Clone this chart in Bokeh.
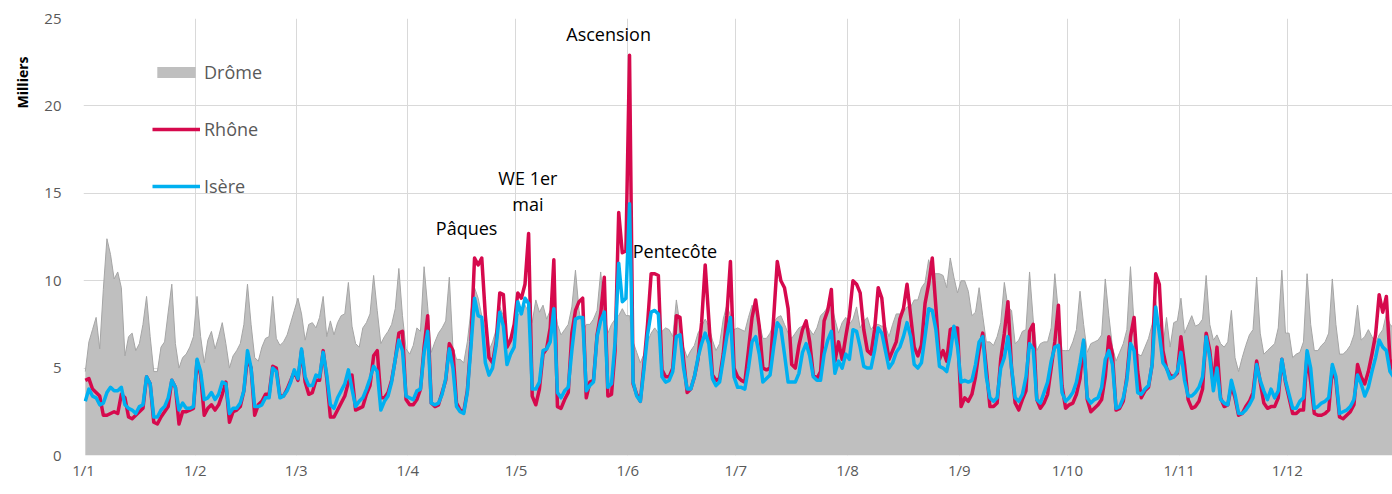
from bokeh.plotting import figure
from bokeh.models import Range1d, FixedTicker, Legend, LegendItem, Label, Title, ColumnDataSource
from bokeh.embed import file_html
from bokeh.resources import INLINE
import numpy as np

# ---------------- data (milliers / jour) ----------------
month_labels = ["1/1", "1/2", "1/3", "1/4", "1/5", "1/6", "1/7", "1/8", "1/9", "1/10", "1/11", "1/12"]
month_start = [0, 31, 59, 90, 120, 151, 181, 212, 243, 273, 304, 334]

drome_jan = [4.8, 6.5, 7.2, 7.9, 6.1, 9.5, 12.4, 11.5, 10.1, 10.5, 9.6, 5.7, 6.8, 7.0, 6.0, 6.4, 7.5, 9.1, 6.8, 4.8, 4.8, 6.2, 6.5, 8.2, 9.8, 6.4, 5.0, 5.6, 5.8, 6.2, 6.8]
rhone_jan = [4.3, 4.4, 3.8, 3.6, 3.4, 2.3, 2.3, 2.4, 2.5, 2.4, 3.5, 3.3, 2.2, 2.1, 2.3, 2.5, 2.7, 4.5, 4.1, 1.9, 1.8, 2.2, 2.5, 2.8, 4.3, 3.9, 1.8, 2.5, 2.5, 2.6, 2.7]
isere_jan = [3.1, 3.8, 3.4, 3.3, 2.9, 3.0, 3.6, 3.9, 3.7, 3.7, 3.9, 2.9, 2.7, 2.6, 2.4, 2.8, 2.9, 4.5, 4.1, 2.2, 2.2, 2.6, 2.8, 3.3, 4.3, 3.9, 2.6, 3.0, 2.7, 2.7, 2.8]

drome_feb = [9.1, 6.8, 5.3, 6.6, 7.1, 6.1, 6.8, 7.6, 6.4, 5.0, 5.7, 6.0, 6.4, 7.5, 9.8, 7.5, 5.6, 5.4, 6.2, 6.7, 6.8, 9.1, 6.7, 6.3, 6.5, 6.9, 7.6, 8.3]
rhone_feb = [5.4, 4.6, 2.3, 2.7, 2.9, 2.6, 2.9, 3.5, 4.2, 1.9, 2.5, 2.6, 2.8, 3.7, 5.6, 5.0, 2.3, 2.9, 3.1, 3.5, 3.5, 5.1, 5.0, 3.4, 3.4, 3.8, 4.3, 4.8]
isere_feb = [5.5, 4.8, 3.2, 3.3, 3.6, 3.2, 3.5, 4.2, 4.1, 2.4, 2.7, 2.7, 3.0, 3.7, 6.0, 5.0, 2.8, 2.8, 2.9, 3.3, 3.3, 5.0, 4.8, 3.3, 3.4, 3.7, 4.2, 4.9]

drome_mar = [9.0, 8.1, 6.6, 7.5, 7.6, 7.3, 7.9, 9.1, 6.8, 7.7, 6.9, 7.6, 8.0, 8.1, 9.9, 7.4, 6.4, 6.2, 7.3, 7.6, 8.1, 10.3, 8.3, 6.4, 6.8, 7.1, 7.5, 8.4, 10.7, 8.0, 6.1]
rhone_mar = [4.3, 6.0, 4.2, 3.5, 3.6, 4.3, 4.3, 6.0, 4.4, 2.2, 2.2, 2.6, 3.0, 3.4, 4.2, 4.6, 2.6, 2.7, 2.8, 3.5, 4.0, 5.7, 6.0, 3.3, 3.3, 3.6, 4.3, 5.5, 7.0, 7.1, 3.2]
isere_mar = [4.4, 6.1, 4.5, 4.0, 4.0, 4.6, 4.5, 5.9, 4.6, 2.9, 2.7, 3.3, 3.7, 4.1, 4.9, 3.8, 2.8, 3.1, 3.3, 3.8, 4.4, 5.1, 4.8, 2.6, 3.1, 3.4, 4.2, 5.5, 6.6, 6.0, 3.4]

drome_apr = [5.8, 6.3, 7.3, 7.1, 10.8, 8.5, 5.9, 6.5, 7.0, 7.3, 7.7, 10.2, 6.2, 5.5, 5.5, 5.3, 6.5, 8.3, 9.6, 9.0, 8.0, 7.2, 6.0, 6.5, 7.2, 8.5, 8.0, 6.5, 6.8, 7.5]
rhone_apr = [2.9, 2.9, 3.2, 3.8, 6.2, 8.0, 3.0, 2.8, 2.9, 3.6, 4.3, 6.4, 6.0, 3.0, 2.6, 2.5, 3.7, 6.5, 11.3, 10.9, 11.3, 8.0, 5.6, 5.3, 6.5, 9.3, 9.2, 6.2, 6.6, 7.5]
isere_apr = [3.3, 3.2, 3.7, 3.8, 5.9, 7.1, 3.0, 2.9, 3.0, 3.5, 4.4, 6.1, 5.0, 2.8, 2.5, 2.4, 3.6, 6.2, 9.0, 8.0, 7.9, 5.3, 4.6, 5.0, 6.3, 8.2, 7.4, 5.2, 5.8, 6.2]

drome_may = [8.0, 8.3, 8.6, 8.2, 7.6, 8.9, 8.2, 8.6, 7.8, 8.3, 9.0, 7.5, 6.9, 7.2, 7.5, 8.5, 10.6, 8.3, 7.0, 7.5, 7.5, 7.8, 8.3, 10.5, 8.3, 7.0, 7.5, 7.8, 8.0, 8.4, 8.0]
rhone_may = [9.3, 9.0, 9.8, 12.7, 3.4, 2.9, 3.8, 5.8, 6.1, 7.3, 11.2, 2.8, 2.7, 3.2, 3.6, 7.0, 8.3, 8.8, 9.0, 3.3, 4.2, 4.3, 6.9, 8.1, 10.2, 3.4, 3.5, 6.0, 13.9, 11.6, 11.7]
isere_may = [8.8, 8.1, 9.0, 8.7, 3.8, 3.8, 4.2, 6.0, 6.1, 6.5, 8.4, 3.6, 3.3, 3.7, 3.9, 6.0, 7.8, 7.9, 7.9, 3.7, 4.0, 4.2, 6.8, 7.7, 8.2, 3.9, 4.1, 6.5, 11.0, 8.8, 9.0]

drome_jun = [8.0, 6.5, 5.9, 5.3, 5.8, 6.5, 7.0, 7.3, 7.0, 7.1, 7.3, 7.2, 6.8, 8.9, 7.5, 6.2, 5.6, 6.0, 6.3, 7.0, 7.4, 7.8, 7.4, 6.6, 6.0, 6.4, 7.8, 8.6, 8.0, 7.2]
rhone_jun = [22.9, 4.1, 3.5, 3.1, 5.2, 7.5, 10.4, 10.4, 10.3, 4.9, 4.5, 4.5, 5.0, 8.0, 7.9, 5.5, 3.6, 3.8, 4.5, 5.5, 7.6, 10.9, 7.8, 4.6, 4.3, 4.4, 5.8, 8.0, 11.1, 5.0]
isere_jun = [14.4, 4.2, 3.4, 3.1, 4.9, 6.9, 8.2, 8.3, 8.1, 4.5, 4.2, 4.3, 4.8, 6.8, 6.9, 5.0, 3.8, 3.8, 4.5, 5.6, 6.4, 7.0, 6.4, 4.4, 4.0, 4.2, 5.5, 6.8, 7.9, 4.5]

drome_jul = [7.3, 7.2, 7.1, 7.9, 8.6, 8.2, 7.6, 6.7, 6.7, 7.0, 7.6, 7.9, 8.0, 7.5, 7.0, 6.7, 7.0, 7.3, 7.4, 7.6, 7.2, 6.9, 7.3, 8.0, 8.2, 8.5, 8.7, 7.8, 7.0, 7.6, 7.9]
rhone_jul = [4.5, 4.3, 4.2, 6.0, 7.9, 8.9, 7.4, 5.0, 4.9, 5.0, 7.9, 11.1, 10.0, 9.6, 8.4, 5.2, 5.0, 6.3, 7.2, 7.7, 6.5, 4.6, 4.4, 4.8, 7.7, 8.3, 9.5, 5.4, 6.5, 5.5, 6.8]
isere_jul = [3.9, 3.9, 3.8, 5.0, 6.5, 6.8, 5.8, 4.2, 4.4, 4.6, 6.2, 7.6, 7.3, 5.8, 4.2, 4.2, 4.2, 4.7, 5.9, 6.4, 5.7, 4.5, 4.3, 4.3, 5.8, 6.6, 7.1, 4.7, 5.4, 5.0, 5.8]

drome_aug = [7.5, 7.8, 8.5, 7.3, 7.7, 7.9, 7.2, 7.5, 7.5, 7.4, 7.4, 6.8, 7.5, 8.1, 8.1, 8.2, 8.5, 8.5, 8.9, 8.9, 9.6, 9.9, 11.2, 10.4, 10.4, 10.4, 10.3, 9.6, 11.3, 10.2, 9.3]
rhone_aug = [8.0, 10.0, 9.8, 9.3, 7.2, 6.0, 5.8, 7.2, 9.6, 9.0, 6.8, 5.5, 6.0, 6.5, 7.8, 8.4, 9.8, 8.0, 6.2, 5.7, 6.3, 8.7, 9.8, 11.3, 8.5, 5.5, 6.0, 5.4, 7.2, 7.3, 7.3]
isere_aug = [5.5, 7.2, 7.1, 6.2, 5.1, 5.0, 5.0, 6.0, 7.3, 7.0, 6.0, 5.0, 5.3, 5.9, 6.2, 6.8, 7.6, 6.8, 5.2, 5.0, 5.3, 6.8, 8.4, 8.3, 7.2, 5.1, 5.0, 4.8, 5.8, 7.4, 6.2]

drome_sep = [10.0, 10.0, 9.4, 8.0, 8.2, 9.6, 8.0, 6.5, 6.5, 6.3, 6.8, 7.6, 9.9, 8.5, 8.3, 6.4, 6.6, 7.1, 7.2, 10.5, 7.8, 6.0, 6.4, 6.5, 6.5, 7.3, 10.4, 8.2, 6.0, 6.0]
rhone_sep = [2.8, 3.3, 3.1, 3.5, 4.5, 6.0, 7.0, 5.0, 2.8, 2.8, 3.0, 5.5, 7.0, 8.8, 5.0, 3.0, 2.6, 3.2, 3.7, 7.1, 7.5, 3.2, 2.7, 3.0, 3.5, 5.0, 6.5, 8.6, 4.0, 2.7]
isere_sep = [4.2, 4.3, 4.2, 4.3, 5.2, 6.5, 6.8, 4.5, 3.3, 3.1, 3.3, 5.0, 5.6, 6.8, 5.0, 3.3, 3.1, 3.5, 4.5, 6.4, 6.1, 3.2, 3.0, 3.6, 4.2, 5.4, 6.2, 6.3, 3.6, 3.1]

drome_oct = [6.0, 6.5, 7.2, 9.4, 7.5, 5.9, 6.4, 6.5, 6.6, 6.9, 10.1, 8.0, 6.2, 5.4, 5.9, 6.4, 7.2, 10.8, 7.5, 5.8, 5.7, 6.2, 6.7, 7.5, 8.8, 7.0, 6.2, 7.9, 6.2, 7.6, 7.7]
rhone_oct = [2.9, 3.0, 3.5, 4.4, 6.5, 3.2, 2.5, 2.7, 2.9, 3.2, 4.5, 6.8, 5.8, 2.6, 2.7, 3.1, 4.5, 6.8, 7.9, 4.8, 3.3, 3.7, 3.9, 5.2, 10.4, 9.8, 6.0, 5.0, 4.6, 4.5, 4.7]
isere_oct = [3.3, 3.6, 4.2, 5.3, 6.6, 3.3, 3.0, 3.2, 3.3, 3.9, 5.5, 6.0, 5.2, 2.7, 2.8, 3.3, 4.3, 6.4, 6.0, 3.6, 3.5, 3.8, 4.0, 5.2, 8.5, 7.0, 5.3, 5.0, 4.4, 4.5, 4.8]

drome_nov = [9.0, 7.0, 7.5, 8.0, 7.4, 7.5, 7.8, 10.3, 7.5, 6.6, 6.9, 6.4, 6.2, 6.5, 8.3, 5.6, 4.8, 5.6, 6.3, 6.9, 7.2, 10.2, 7.0, 5.8, 6.0, 6.2, 6.4, 7.3, 10.6, 7.0]
rhone_nov = [6.8, 5.2, 3.2, 2.7, 2.8, 3.1, 3.8, 7.0, 6.0, 4.0, 6.2, 3.3, 2.8, 2.9, 4.0, 3.3, 2.3, 2.4, 2.8, 3.1, 3.6, 5.4, 4.2, 3.0, 2.7, 2.8, 2.8, 3.3, 5.5, 4.2]
isere_nov = [5.9, 4.3, 3.4, 3.4, 3.6, 3.9, 4.5, 6.8, 5.6, 3.7, 5.0, 3.2, 3.0, 2.9, 4.3, 3.5, 2.4, 2.4, 2.6, 2.9, 3.3, 5.2, 4.3, 3.7, 3.2, 3.8, 3.3, 3.7, 5.5, 4.3]

drome_dec = [7.0, 5.6, 5.8, 5.9, 6.5, 10.4, 7.5, 6.0, 6.0, 6.3, 6.5, 7.0, 10.1, 7.5, 5.8, 5.8, 6.0, 6.3, 6.9, 8.6, 6.6, 6.8, 7.2, 6.8, 6.4, 6.9, 7.2, 8.1, 7.5, 7.3]
rhone_dec = [3.3, 2.4, 2.4, 2.6, 2.6, 5.8, 4.2, 2.4, 2.3, 2.3, 2.4, 2.6, 5.0, 4.3, 2.2, 2.1, 2.3, 2.5, 2.9, 5.2, 4.5, 4.1, 4.8, 5.8, 6.9, 9.2, 8.2, 9.1, 5.5, 4.8]
isere_dec = [3.5, 2.7, 2.7, 3.1, 3.3, 6.0, 5.0, 2.7, 2.8, 3.0, 3.1, 3.3, 5.2, 4.5, 2.4, 2.5, 2.6, 2.8, 3.2, 4.6, 4.1, 3.4, 3.9, 4.8, 5.6, 6.6, 6.2, 6.0, 4.8, 4.5]

annotations = [("Ascension", 145.7, 24.1), ("WE 1er", 123.3, 15.9), ("mai", 123.3, 14.4),
               ("Pâques", 106.3, 13.0), ("Pentecôte", 164.1, 11.7)]

# ---------------- assemble ----------------
drome = (drome_jan + drome_feb + drome_mar + drome_apr + drome_may + drome_jun +
         drome_jul + drome_aug + drome_sep + drome_oct + drome_nov + drome_dec)
rhone = (rhone_jan + rhone_feb + rhone_mar + rhone_apr + rhone_may + rhone_jun +
         rhone_jul + rhone_aug + rhone_sep + rhone_oct + rhone_nov + rhone_dec)
isere = (isere_jan + isere_feb + isere_mar + isere_apr + isere_may + isere_jun +
         isere_jul + isere_aug + isere_sep + isere_oct + isere_nov + isere_dec)

day = np.arange(len(drome)) + 0.5
src = ColumnDataSource(dict(day=day, drome=drome, rhone=rhone, isere=isere))

FONT = "Open Sans"

p = figure(width=1392, height=494, output_backend="svg", toolbar_location=None,
           x_range=Range1d(0, 363.2), y_range=Range1d(0, 25),
           min_border_left=83, min_border_right=0, min_border_top=18, min_border_bottom=39)
p.outline_line_color = None
p.background_fill_color = "white"

area = p.varea(x="day", y1=0, y2="drome", source=src, fill_color="#BFBFBF")
edge = p.line("day", "drome", source=src, line_color="#A5A5A5", line_width=1)
red = p.line("day", "rhone", source=src, line_color="#D6094D", line_width=3.5, line_join="round")
blue = p.line("day", "isere", source=src, line_color="#00B0F0", line_width=3.5, line_join="round")

# axes
p.xaxis.ticker = FixedTicker(ticks=month_start)
p.xaxis.major_label_overrides = {m: lab for m, lab in zip(month_start, month_labels)}
p.yaxis.ticker = FixedTicker(ticks=[0, 5, 10, 15, 20, 25])
for ax in (p.xaxis[0], p.yaxis[0]):
    ax.axis_line_color = None
    ax.major_tick_line_color = None
    ax.minor_tick_line_color = None
    ax.major_tick_out = 0
    ax.major_tick_in = 0
    ax.major_label_text_font = FONT
    ax.major_label_text_font_size = "15px"
    ax.major_label_text_color = "#595959"
p.yaxis.major_label_standoff = 22
p.xaxis.major_label_standoff = 4

p.xgrid.grid_line_color = "#D9D9D9"
p.ygrid.grid_line_color = "#D9D9D9"

# y title at top-left
p.add_layout(Title(text="Milliers", align="right", offset=38, standoff=20,
                   text_font=FONT, text_font_size="14px", text_font_style="bold",
                   text_color="black"), "left")

# annotations
for txt, xx, yy in annotations:
    p.add_layout(Label(x=xx, y=yy, text=txt, text_align="center", text_baseline="middle",
                       text_font=FONT, text_font_size="18px", text_color="black"))

legend = Legend(items=[LegendItem(label="Drôme", renderers=[area]),
                       LegendItem(label="Rhône", renderers=[red]),
                       LegendItem(label="Isère", renderers=[blue])],
                location=(69, 257), orientation="vertical",
                glyph_width=48, glyph_height=14, label_height=25, spacing=32,
                label_standoff=4, padding=0, margin=0,
                label_text_font=FONT, label_text_font_size="18px", label_text_color="#595959",
                border_line_color=None, background_fill_alpha=0)
p.add_layout(legend)

open("out.html", "w").write(file_html(p, INLINE))
